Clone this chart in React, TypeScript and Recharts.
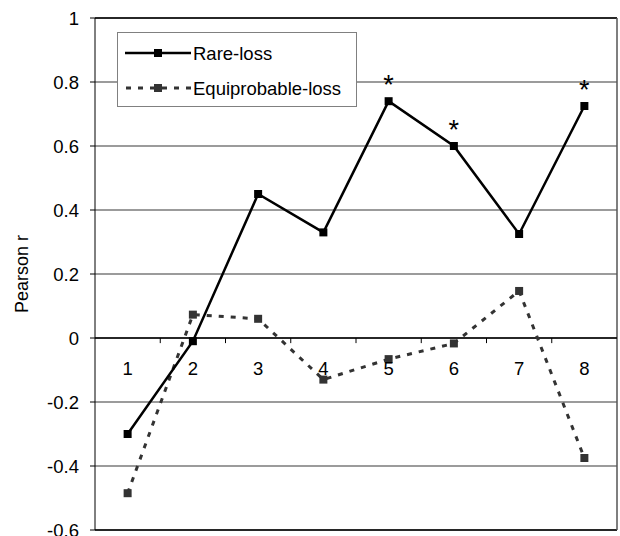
import {
  LineChart,
  Line,
  XAxis,
  YAxis,
  CartesianGrid,
  ReferenceLine,
  ReferenceDot,
  LabelList,
} from 'recharts'

const categories = ['1', '2', '3', '4', '5', '6', '7', '8']
const rareLoss = [-0.3, -0.01, 0.45, 0.33, 0.74, 0.6, 0.325, 0.725]
const equiLoss = [-0.485, 0.073, 0.06, -0.13, -0.066, -0.017, 0.147, -0.375]
const significant = [false, false, false, false, true, true, false, true]
const yTicks = [-0.6, -0.4, -0.2, 0, 0.2, 0.4, 0.6, 0.8, 1]

const data = categories.map((c, i) => ({
  x: i + 1,
  name: c,
  rare: rareLoss[i],
  equi: equiLoss[i],
  sig: significant[i],
}))
// tick marks sit between the categories
const boundaries = categories.slice(1).map((_, i) => i + 1.5)

const FONT = '"Liberation Sans", Arial, sans-serif'

function Square(props: any) {
  const { cx, cy, fill } = props
  if (cx == null || cy == null) return null
  return <rect x={cx - 4} y={cy - 4} width={8} height={8} fill={fill} />
}

function Star(props: any) {
  const { x, y, value } = props
  if (!value) return null
  return (
    <text x={x} y={y - 7} textAnchor="middle" fontSize={27} fill="#000" fontFamily={FONT}>
      *
    </text>
  )
}

// legend drawn as an overlay so it doesn't eat into the plot area
function LegendBox() {
  return (
    <div
      style={{
        position: 'absolute',
        left: 117,
        top: 32,
        width: 240,
        height: 75,
        boxSizing: 'border-box',
        border: '1px solid #808080',
        background: '#fff',
      }}
    >
      <svg width={238} height={73} style={{ display: 'block' }}>
        <line x1={7} x2={73} y1={20} y2={20} stroke="#000" strokeWidth={2.5} />
        <rect x={36} y={16} width={8} height={8} fill="#000" />
        <text x={75} y={26.5} fontSize={18.5} fontFamily={FONT}>
          Rare-loss
        </text>
        <line
          x1={8}
          x2={73}
          y1={55}
          y2={55}
          stroke="#333"
          strokeWidth={3}
          strokeDasharray="5 7"
        />
        <rect x={36} y={51} width={8} height={8} fill="#333" />
        <text x={75} y={61.5} fontSize={18.5} fontFamily={FONT}>
          Equiprobable-loss
        </text>
      </svg>
    </div>
  )
}

export default function App() {
  return (
    <div style={{ position: 'relative', width: 620, height: 536 }}>
      <style>{'body{margin:0}'}</style>
      <LineChart
        width={620}
        height={536}
        data={data}
        margin={{ top: 18, right: 3, bottom: 6, left: 0 }}
        style={{ fontFamily: FONT, overflow: 'visible' }}
      >
        <CartesianGrid horizontal vertical={false} stroke="#7a7a7a" strokeWidth={1.5} />
        <XAxis type="number" dataKey="x" domain={[0.5, 8.5]} hide />
        <YAxis
          domain={[-0.6, 1]}
          ticks={yTicks}
          interval={0}
          width={95}
          tickSize={5}
          tickMargin={11}
          axisLine={{ stroke: '#000' }}
          tickLine={{ stroke: '#000' }}
          tick={{ fontSize: 18.5, fill: '#000' }}
          label={{
            content: (p: any) => {
              const vb = p.viewBox
              const cy = vb.y + vb.height / 2
              return (
                <text
                  x={28}
                  y={cy}
                  transform={`rotate(-90, 28, ${cy})`}
                  textAnchor="middle"
                  fontSize={18}
                  fill="#000"
                  fontFamily={FONT}
                >
                  Pearson r
                </text>
              )
            },
          }}
        />
        <ReferenceLine y={1} stroke="#000" strokeWidth={1.5} />
        <ReferenceLine y={-0.6} stroke="#000" strokeWidth={1.5} />
        <ReferenceLine x={8.5} stroke="#555" strokeWidth={1.5} />
        <ReferenceLine y={0} stroke="#000" strokeWidth={1.5} />
        {boundaries.map((b) => (
          <ReferenceLine
            key={b}
            segment={[
              { x: b, y: 0 },
              { x: b, y: -0.016 },
            ]}
            stroke="#000"
          />
        ))}
        {data.map((d) => (
          <ReferenceDot
            key={d.name}
            x={d.x}
            y={0}
            r={0}
            stroke="none"
            fill="none"
            label={{ value: d.name, position: 'bottom', offset: 24, fontSize: 18.5, fill: '#000' }}
          />
        ))}
        <Line
          dataKey="equi"
          name="Equiprobable-loss"
          stroke="#333"
          strokeWidth={3}
          strokeDasharray="5 7"
          dot={<Square fill="#333" />}
          activeDot={false}
          isAnimationActive={false}
        />
        <Line
          dataKey="rare"
          name="Rare-loss"
          stroke="#000"
          strokeWidth={2.5}
          dot={<Square fill="#000" />}
          activeDot={false}
          isAnimationActive={false}
        >
          <LabelList dataKey="sig" content={<Star />} />
        </Line>
      </LineChart>
      <LegendBox />
    </div>
  )
}
